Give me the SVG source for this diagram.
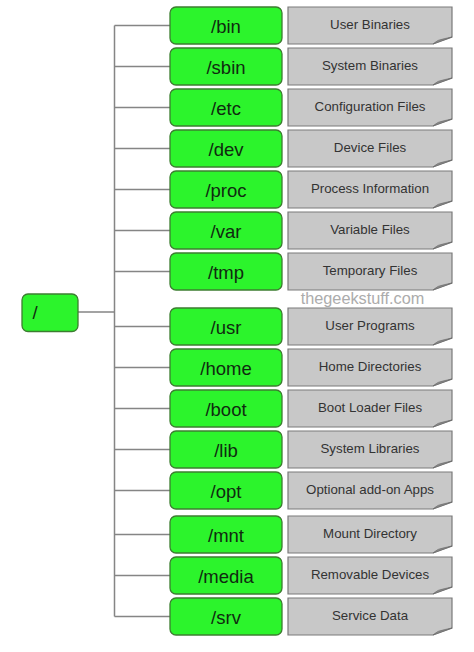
<svg xmlns="http://www.w3.org/2000/svg" width="474" height="652" viewBox="0 0 474 652">
<style>
.g rect{fill:#2cf42c;stroke:#3c7d30;stroke-width:1.3}
.g text{font-family:"Liberation Sans",Arial,sans-serif;font-size:18.5px;fill:#102a10;text-anchor:middle}
.d text{font-family:"Liberation Sans",Arial,sans-serif;font-size:13.3px;fill:#333;text-anchor:middle}
.c line{stroke:#858585;stroke-width:1.5}
</style>
<defs>
<g id="desc"><path d="M288,0 H452 V30 L433,37 H288 Z" fill="#c8c8c8" stroke="#7a7a7a" stroke-width="1.2"/><path d="M433,37 L452,30 L445,31.5 Q437,32.5 433,37 Z" fill="#8a8a8a" stroke="#6a6a6a" stroke-width="0.6"/></g>
</defs>
<g id="connectors" class="c">
<line x1="114.5" y1="25.5" x2="114.5" y2="616.5"/>
<line x1="78" y1="312" x2="114.5" y2="312"/>
<line x1="114.5" y1="25.5" x2="170" y2="25.5"/>
<line x1="114.5" y1="66.5" x2="170" y2="66.5"/>
<line x1="114.5" y1="107.5" x2="170" y2="107.5"/>
<line x1="114.5" y1="148.5" x2="170" y2="148.5"/>
<line x1="114.5" y1="189.5" x2="170" y2="189.5"/>
<line x1="114.5" y1="230.5" x2="170" y2="230.5"/>
<line x1="114.5" y1="271.5" x2="170" y2="271.5"/>
<line x1="114.5" y1="326.5" x2="170" y2="326.5"/>
<line x1="114.5" y1="367.5" x2="170" y2="367.5"/>
<line x1="114.5" y1="408.5" x2="170" y2="408.5"/>
<line x1="114.5" y1="449.5" x2="170" y2="449.5"/>
<line x1="114.5" y1="490.5" x2="170" y2="490.5"/>
<line x1="114.5" y1="534.5" x2="170" y2="534.5"/>
<line x1="114.5" y1="575.5" x2="170" y2="575.5"/>
<line x1="114.5" y1="616.5" x2="170" y2="616.5"/>
</g>
<g id="root" class="g"><rect x="22" y="294" width="56" height="37.5" rx="6"/><text x="35" y="318.5">/</text></g>

<g id="bin" class="g"><rect x="170" y="7" width="112" height="37" rx="6"/><text x="226" y="33">/bin</text></g>
<g id="bin-desc" class="d" transform="translate(0,7)"><use href="#desc"/><text x="370" y="21.5">User Binaries</text></g>

<g id="sbin" class="g"><rect x="170" y="48" width="112" height="37" rx="6"/><text x="226" y="74">/sbin</text></g>
<g id="sbin-desc" class="d" transform="translate(0,48)"><use href="#desc"/><text x="370" y="21.5">System Binaries</text></g>

<g id="etc" class="g"><rect x="170" y="89" width="112" height="37" rx="6"/><text x="226" y="115">/etc</text></g>
<g id="etc-desc" class="d" transform="translate(0,89)"><use href="#desc"/><text x="370" y="21.5">Configuration Files</text></g>

<g id="dev" class="g"><rect x="170" y="130" width="112" height="37" rx="6"/><text x="226" y="156">/dev</text></g>
<g id="dev-desc" class="d" transform="translate(0,130)"><use href="#desc"/><text x="370" y="21.5">Device Files</text></g>

<g id="proc" class="g"><rect x="170" y="171" width="112" height="37" rx="6"/><text x="226" y="197">/proc</text></g>
<g id="proc-desc" class="d" transform="translate(0,171)"><use href="#desc"/><text x="370" y="21.5">Process Information</text></g>

<g id="var" class="g"><rect x="170" y="212" width="112" height="37" rx="6"/><text x="226" y="238">/var</text></g>
<g id="var-desc" class="d" transform="translate(0,212)"><use href="#desc"/><text x="370" y="21.5">Variable Files</text></g>

<g id="tmp" class="g"><rect x="170" y="253" width="112" height="37" rx="6"/><text x="226" y="279">/tmp</text></g>
<g id="tmp-desc" class="d" transform="translate(0,253)"><use href="#desc"/><text x="370" y="21.5">Temporary Files</text></g>

<text id="watermark" x="362.5" y="304" font-family="'Liberation Sans',Arial,sans-serif" font-size="16.3" fill="#acacac" text-anchor="middle">thegeekstuff.com</text>

<g id="usr" class="g"><rect x="170" y="308" width="112" height="37" rx="6"/><text x="226" y="334">/usr</text></g>
<g id="usr-desc" class="d" transform="translate(0,308)"><use href="#desc"/><text x="370" y="21.5">User Programs</text></g>

<g id="home" class="g"><rect x="170" y="349" width="112" height="37" rx="6"/><text x="226" y="375">/home</text></g>
<g id="home-desc" class="d" transform="translate(0,349)"><use href="#desc"/><text x="370" y="21.5">Home Directories</text></g>

<g id="boot" class="g"><rect x="170" y="390" width="112" height="37" rx="6"/><text x="226" y="416">/boot</text></g>
<g id="boot-desc" class="d" transform="translate(0,390)"><use href="#desc"/><text x="370" y="21.5">Boot Loader Files</text></g>

<g id="lib" class="g"><rect x="170" y="431" width="112" height="37" rx="6"/><text x="226" y="457">/lib</text></g>
<g id="lib-desc" class="d" transform="translate(0,431)"><use href="#desc"/><text x="370" y="21.5">System Libraries</text></g>

<g id="opt" class="g"><rect x="170" y="472" width="112" height="37" rx="6"/><text x="226" y="498">/opt</text></g>
<g id="opt-desc" class="d" transform="translate(0,472)"><use href="#desc"/><text x="370" y="21.5">Optional add-on Apps</text></g>

<g id="mnt" class="g"><rect x="170" y="516" width="112" height="37" rx="6"/><text x="226" y="542">/mnt</text></g>
<g id="mnt-desc" class="d" transform="translate(0,516)"><use href="#desc"/><text x="370" y="21.5">Mount Directory</text></g>

<g id="media" class="g"><rect x="170" y="557" width="112" height="37" rx="6"/><text x="226" y="583">/media</text></g>
<g id="media-desc" class="d" transform="translate(0,557)"><use href="#desc"/><text x="370" y="21.5">Removable Devices</text></g>

<g id="srv" class="g"><rect x="170" y="598" width="112" height="37" rx="6"/><text x="226" y="624">/srv</text></g>
<g id="srv-desc" class="d" transform="translate(0,598)"><use href="#desc"/><text x="370" y="21.5">Service Data</text></g>
</svg>
